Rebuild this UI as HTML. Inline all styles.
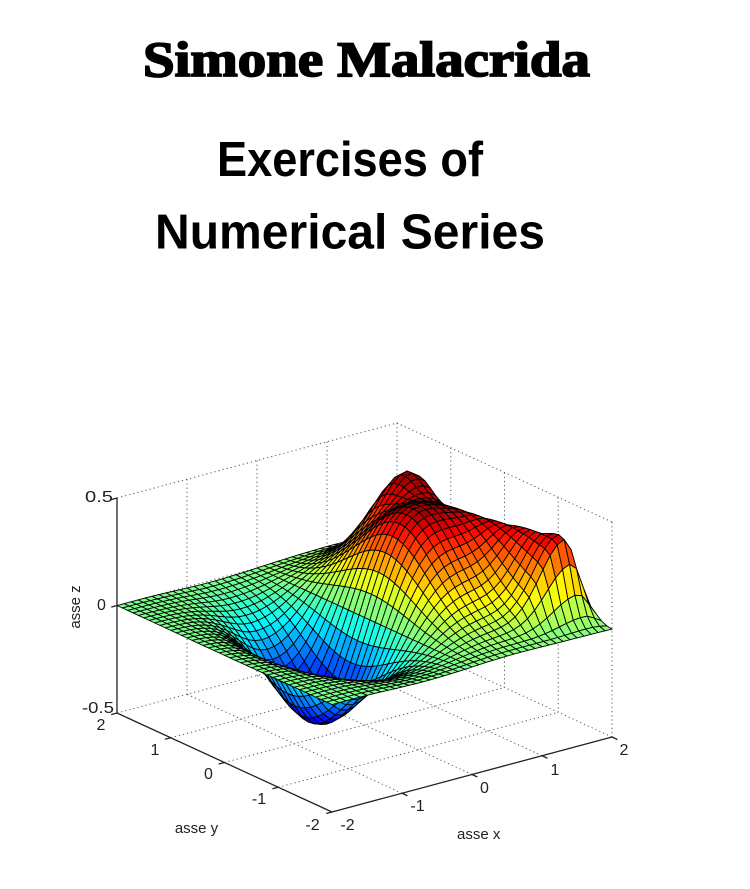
<!DOCTYPE html>
<html>
<head>
<meta charset="utf-8">
<style>
html,body{margin:0;padding:0;background:#fff;}
svg{display:block;}
</style>
</head>
<body>
<svg id="s" width="750" height="889" viewBox="0 0 750 889" xmlns="http://www.w3.org/2000/svg">
<rect width="750" height="889" fill="#fff"/>

<!-- Titles -->
<text x="143" y="76" font-family="Liberation Serif, serif" font-weight="bold" font-size="50" stroke="#000" stroke-width="1.8" fill="#000" textLength="447" lengthAdjust="spacingAndGlyphs">Simone Malacrida</text>
<text x="217" y="176" font-family="Liberation Sans, sans-serif" font-weight="bold" font-size="49" fill="#000" textLength="266" lengthAdjust="spacingAndGlyphs">Exercises of</text>
<text x="155" y="248.5" font-family="Liberation Sans, sans-serif" font-weight="bold" font-size="49" fill="#000" textLength="390" lengthAdjust="spacingAndGlyphs">Numerical Series</text>

<!-- dotted grid / box -->
<g stroke="#555" stroke-width="1" stroke-dasharray="1.2 3" fill="none">
<path d="M117,498 L397,423"/>
<path d="M397,423 L612,522"/>
<path d="M397,423 L397,638"/>
<path d="M612,522 L612,737"/>
<path d="M117,713 L397,638"/>
<path d="M397,638 L612,737"/>
<path d="M187,479.25 L187,694.25"/>
<path d="M257,460.5 L257,675.5"/>
<path d="M327,441.75 L327,656.75"/>
<path d="M117,605.5 L397,530.5"/>
<path d="M450.75,447.75 L450.75,662.75"/>
<path d="M504.5,472.5 L504.5,687.5"/>
<path d="M558.25,497.25 L558.25,712.25"/>
<path d="M397,530.5 L612,629.5"/>
<path d="M402,793.25 L187,694.25"/>
<path d="M472,774.5 L257,675.5"/>
<path d="M542,755.75 L327,656.75"/>
<path d="M278.25,787.25 L558.25,712.25"/>
<path d="M224.5,762.5 L504.5,687.5"/>
<path d="M170.75,737.75 L450.75,662.75"/>
</g>

<!-- surface -->
<g id="surf" stroke="#000" stroke-width="0.9" stroke-linejoin="round"></g>

<!-- axes -->
<g stroke="#222" stroke-width="1.3" fill="none">
<path d="M117,498 L117,713"/>
<path d="M117,713 L332,812"/>
<path d="M332,812 L612,737"/>
<path d="M117,498 L111.2,499.6 M117,605.5 L111.2,607.1 M117,713 L111.2,714.6"/>
<path d="M170.75,737.75 L164.95,739.3 M224.5,762.5 L218.7,764.05 M278.25,787.25 L272.45,788.8 M332,812 L326.2,813.55"/>
<path d="M402,793.25 L407.45,795.75 M472,774.5 L477.45,777 M542,755.75 L547.45,758.25 M612,737 L617.45,739.5"/>
</g>

<!-- tick labels -->
<g font-family="Liberation Sans, sans-serif" font-size="16" fill="#222">
<text x="85" y="502" textLength="28" lengthAdjust="spacingAndGlyphs">0.5</text>
<text x="97" y="610">0</text>
<text x="82" y="713" textLength="32" lengthAdjust="spacingAndGlyphs">-0.5</text>

<text x="101" y="730" text-anchor="middle">2</text>
<text x="155" y="755" text-anchor="middle">1</text>
<text x="208.5" y="779" text-anchor="middle">0</text>
<text x="259" y="804" text-anchor="middle">-1</text>
<text x="312.5" y="830" text-anchor="middle">-2</text>

<text x="347.5" y="830" text-anchor="middle">-2</text>
<text x="417.5" y="811" text-anchor="middle">-1</text>
<text x="484.5" y="793" text-anchor="middle">0</text>
<text x="555" y="775" text-anchor="middle">1</text>
<text x="624" y="755" text-anchor="middle">2</text>
</g>
<g font-family="Liberation Sans, sans-serif" font-size="15" fill="#222">
<text x="196.5" y="833" text-anchor="middle">asse y</text>
<text x="478.7" y="839" text-anchor="middle">asse x</text>
<text transform="translate(80,607) rotate(-90)" text-anchor="middle">asse z</text>
</g>
</svg>

<script>
(function(){
  function f(x,y){
    var base;
    if (x < -0.7071) {
      base = -0.4289*Math.exp(-Math.pow((x+0.7071)/0.55,2))*Math.exp(-y*y);
    } else {
      base = x*Math.exp(-x*x-y*y);
    }
    var xc = 1.36 + (0.86-y)*0.15;
    var T;
    if (y>0.86) {
      T = 0.46*Math.exp(-Math.pow((y-0.86)/0.6,2));
    } else {
      T = 0.33 + 0.13*Math.exp(-Math.pow((y-0.86)/0.38,2));
      if (y<0.3) T += (0.3-y)*0.04;
      if (y<-1.45) T *= Math.exp(-Math.pow((y+1.45)/0.25,2));
    }
    var bc = xc*Math.exp(-xc*xc-y*y);
    var amp = Math.max(0, T-bc);
    var d = x-xc;
    var prof = d<0 ? Math.exp(-Math.pow(d/0.5,2)) : Math.exp(-Math.pow(d/0.22,2));
    return base + amp*prof;
  }
  function P(x,y,z){
    return [332+70*(x+2)-53.75*(y+2), 812-18.75*(x+2)-24.75*(y+2)-215*(z+0.5)];
  }
  function cl(v){return Math.max(0,Math.min(1,v));}
  function jet(t){
    return [cl(1.5-Math.abs(4*t-3)), cl(1.5-Math.abs(4*t-2)), cl(1.5-Math.abs(4*t-1))];
  }
  var N=41, Z=[], i, j;
  var zmax=-1e9;
  for(i=0;i<N;i++){ Z.push([]); for(j=0;j<N;j++){ var x=-2+0.1*j, y=-2+0.1*i; var z=f(x,y); Z[i].push(z); if(z>zmax) zmax=z; } }
  var cmax = zmax, cmin = -zmax;
  var faces=[];
  for(i=0;i<N-1;i++){
    for(j=0;j<N-1;j++){
      var pts=[[j,i],[j+1,i],[j+1,i+1],[j,i+1]];
      var dsum=0, s='';
      for(var k=0;k<4;k++){
        var xx=-2+0.1*pts[k][0], yy=-2+0.1*pts[k][1], zz=Z[pts[k][1]][pts[k][0]];
        dsum += xx + 1.302*yy - 0.237*zz;
        var p=P(xx,yy,zz);
        s += p[0].toFixed(2)+','+p[1].toFixed(2)+' ';
      }
      var c = Z[i][j];
      var idx = Math.floor((c-cmin)/(cmax-cmin)*64);
      if(idx<0) idx=0; if(idx>63) idx=63;
      var rgb = jet((idx+0.5)/64);
      var col = 'rgb('+Math.round(rgb[0]*255)+','+Math.round(rgb[1]*255)+','+Math.round(rgb[2]*255)+')';
      faces.push({d:dsum/4, s:s, c:col});
    }
  }
  faces.sort(function(a,b){return b.d-a.d;});
  var out='';
  for(i=0;i<faces.length;i++){
    out += '<polygon points="'+faces[i].s+'" fill="'+faces[i].c+'"/>';
  }
  document.getElementById('surf').innerHTML = out;
})();
</script>
</body>
</html>
